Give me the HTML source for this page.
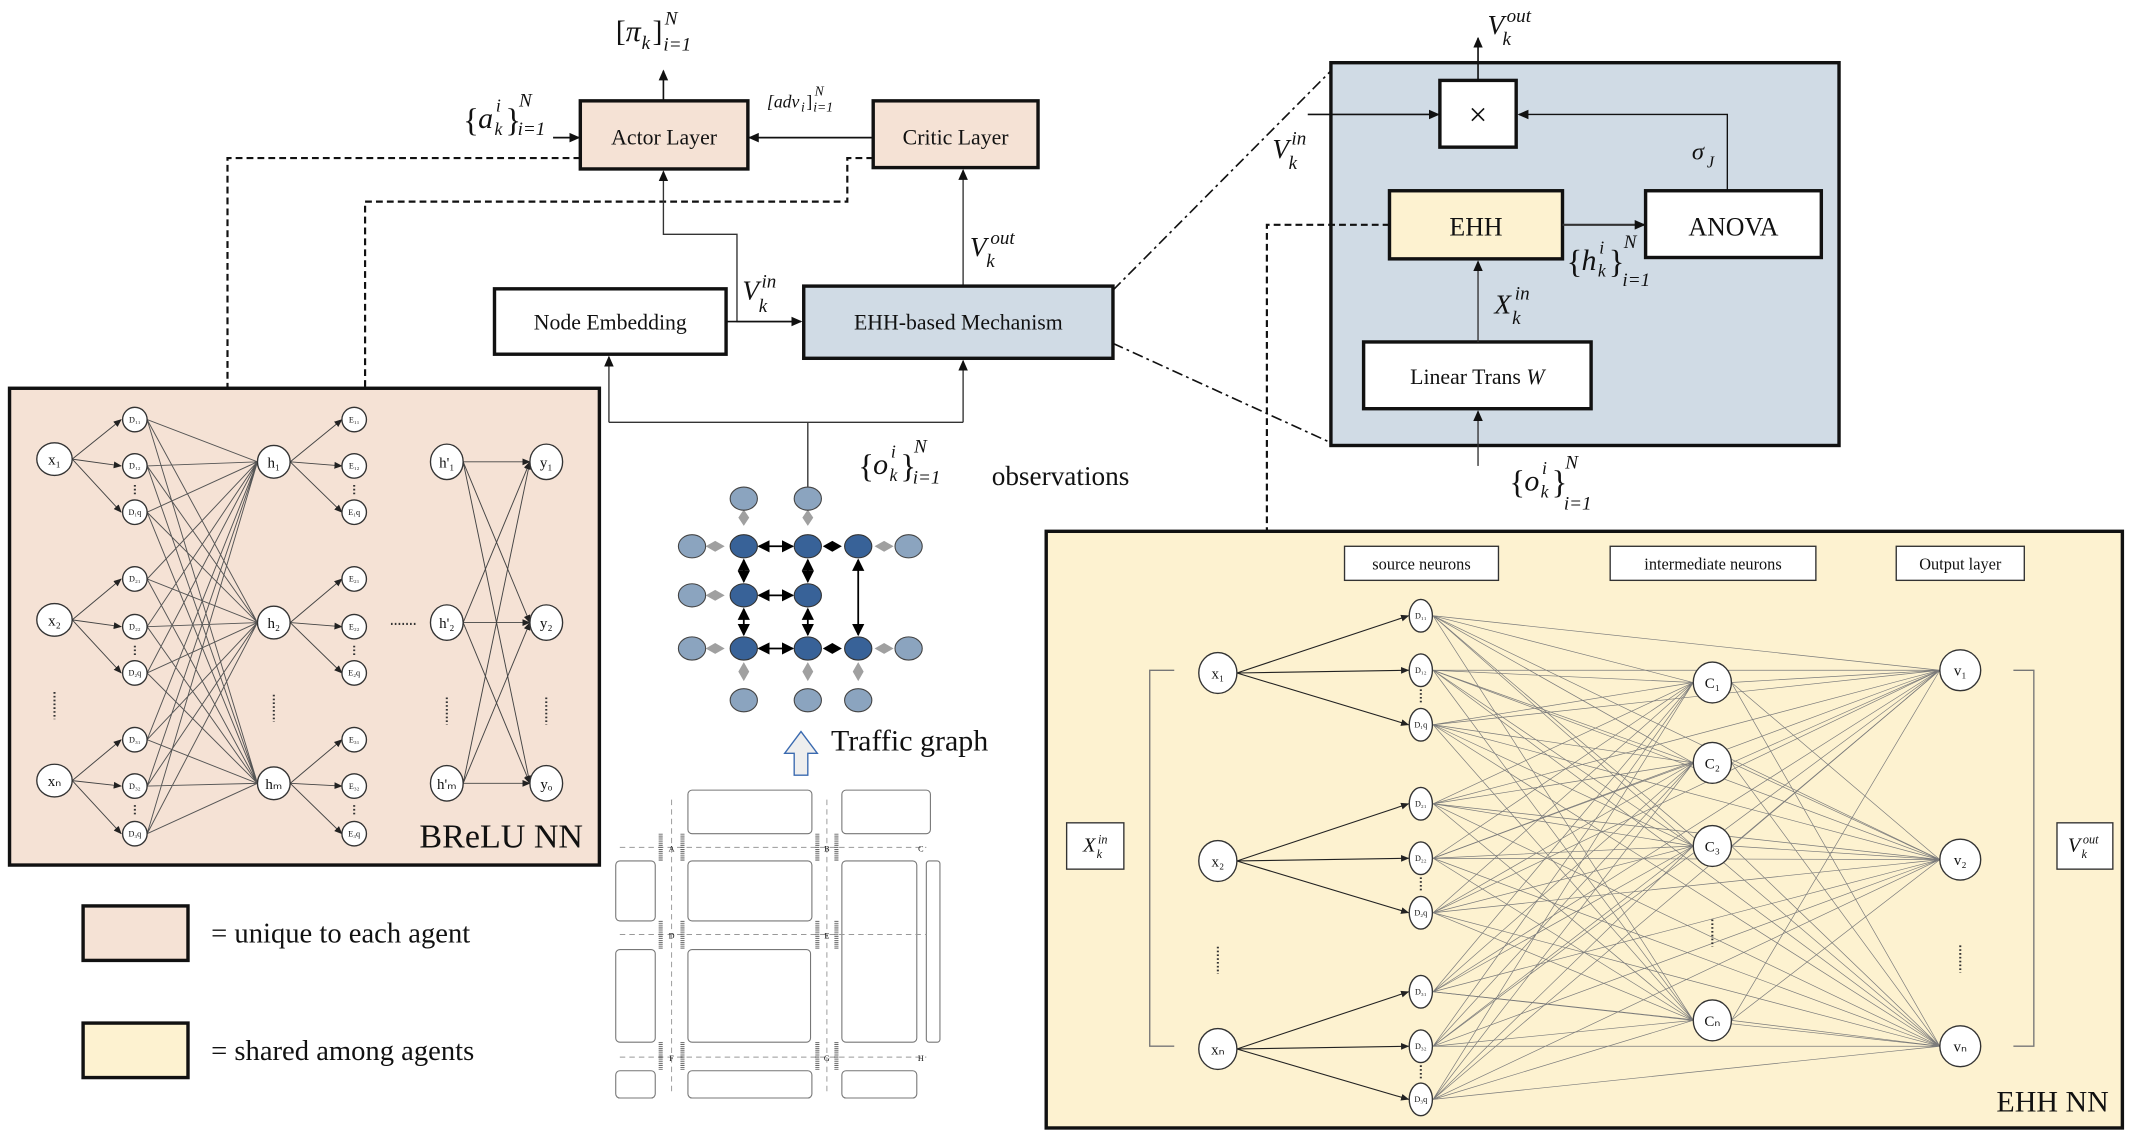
<!DOCTYPE html>
<html><head><meta charset="utf-8">
<style>
html,body{margin:0;padding:0;background:#fff;}
svg{display:block;}
text{font-family:"Liberation Serif",serif;fill:#111;}
.m{font-style:italic;}
</style></head>
<body>
<svg width="2136" height="1134" viewBox="0 0 1568 832.4" xmlns="http://www.w3.org/2000/svg">
<defs>
<marker id="a" markerWidth="8" markerHeight="8" refX="7" refY="4" orient="auto" markerUnits="userSpaceOnUse"><path d="M0,0.5 L8,4 L0,7.5 z" fill="#111"/></marker>
<marker id="s" markerWidth="6" markerHeight="6" refX="5.5" refY="3" orient="auto" markerUnits="userSpaceOnUse"><path d="M0,0.5 L6,3 L0,5.5 z" fill="#222"/></marker>
<marker id="bd" markerWidth="9" markerHeight="9" refX="8" refY="4.5" orient="auto-start-reverse" markerUnits="userSpaceOnUse"><path d="M0,0 L9,4.5 L0,9 z" fill="#000"/></marker>
</defs>

<!-- ===== Top: actor / critic ===== -->
<line x1="487" y1="73" x2="487" y2="52" stroke="#111" stroke-width="1.2" marker-end="url(#a)"/>
<text x="452" y="30" font-size="22">[<tspan class="m">π</tspan></text><text x="471" y="36" class="m" font-size="14">k</text><text x="479" y="30" font-size="22">]</text>
<text x="488" y="18" class="m" font-size="14">N</text><text x="487" y="37" class="m" font-size="14">i=1</text>

<rect x="426" y="74" width="123" height="50" fill="#f5e2d5" stroke="#111" stroke-width="2.5"/>
<text x="487.5" y="106" font-size="16" text-anchor="middle">Actor Layer</text>
<rect x="641" y="74" width="121" height="49" fill="#f5e2d5" stroke="#111" stroke-width="2.5"/>
<text x="701.5" y="106" font-size="16" text-anchor="middle">Critic Layer</text>
<line x1="640" y1="101" x2="550" y2="101" stroke="#111" stroke-width="1.2" marker-end="url(#a)"/>
<text x="340" y="96" font-size="24">{</text><text x="351" y="94" class="m" font-size="22">a</text><text x="364" y="82" class="m" font-size="13">i</text><text x="363" y="99" class="m" font-size="13">k</text><text x="371" y="96" font-size="24">}</text>
<text x="381" y="78" class="m" font-size="14">N</text><text x="380" y="99" class="m" font-size="14">i=1</text>
<line x1="406" y1="101" x2="425" y2="101" stroke="#111" stroke-width="1.2" marker-end="url(#a)"/>
<text x="563" y="79" class="m" font-size="13">[adv</text><text x="588" y="82" class="m" font-size="10">i</text><text x="592" y="79" font-size="13">]</text><text x="598" y="70" class="m" font-size="10">N</text><text x="597" y="82" class="m" font-size="10">i=1</text>

<path d="M426 116 H167 V285" fill="none" stroke="#111" stroke-width="1.6" stroke-dasharray="5,3"/>
<path d="M641 116 H622 V148 H268 V285" fill="none" stroke="#111" stroke-width="1.6" stroke-dasharray="5,3"/>

<path d="M586 236 H541 V172 H487 V126" fill="none" stroke="#333" stroke-width="1" marker-end="url(#a)"/>
<line x1="707" y1="209" x2="707" y2="125" stroke="#333" stroke-width="1" marker-end="url(#a)"/>
<text x="712" y="188" class="m" font-size="20">V</text><text x="727" y="179" class="m" font-size="14">out</text><text x="724" y="196" class="m" font-size="14">k</text>
<text x="545" y="220" class="m" font-size="20">V</text><text x="559" y="211" class="m" font-size="14">in</text><text x="557" y="229" class="m" font-size="14">k</text>

<rect x="363" y="212" width="170" height="48" fill="#fff" stroke="#111" stroke-width="2.5"/>
<text x="448" y="242" font-size="16" text-anchor="middle">Node Embedding</text>
<rect x="590" y="210" width="227" height="53" fill="#d0dbe5" stroke="#111" stroke-width="2.5"/>
<text x="703.5" y="242" font-size="16" text-anchor="middle">EHH-based Mechanism</text>
<line x1="533" y1="236" x2="588" y2="236" stroke="#111" stroke-width="1.2" marker-end="url(#a)"/>

<path d="M593 358 V310 M447 310 H707" fill="none" stroke="#333" stroke-width="1"/>
<line x1="447" y1="310" x2="447" y2="262" stroke="#333" stroke-width="1" marker-end="url(#a)"/>
<line x1="707" y1="310" x2="707" y2="265" stroke="#333" stroke-width="1" marker-end="url(#a)"/>
<text x="630" y="350" font-size="24">{</text><text x="641" y="348" class="m" font-size="22">o</text><text x="654" y="336" class="m" font-size="13">i</text><text x="653" y="353" class="m" font-size="13">k</text><text x="661" y="350" font-size="24">}</text>
<text x="671" y="332" class="m" font-size="14">N</text><text x="670" y="355" class="m" font-size="14">i=1</text>
<text x="728" y="356" font-size="20">observations</text>

<line x1="817" y1="213" x2="977" y2="52" stroke="#111" stroke-width="1.2" stroke-dasharray="8,3,2,3"/>
<line x1="817" y1="252" x2="977" y2="325" stroke="#111" stroke-width="1.2" stroke-dasharray="8,3,2,3"/>

<!-- ===== Right blue box ===== -->
<rect x="977" y="46" width="373" height="281" fill="#d0dbe5" stroke="#111" stroke-width="2.5"/>
<rect x="1057" y="59" width="56" height="49" fill="#fff" stroke="#111" stroke-width="2.5"/>
<text x="1085" y="92" font-size="24" text-anchor="middle">×</text>
<line x1="1085" y1="59" x2="1085" y2="28" stroke="#111" stroke-width="1.2" marker-end="url(#a)"/>
<text x="1092" y="25" class="m" font-size="20">V</text><text x="1106" y="16" class="m" font-size="14">out</text><text x="1103" y="33" class="m" font-size="14">k</text>
<line x1="960" y1="84" x2="1056" y2="84" stroke="#111" stroke-width="1.2" marker-end="url(#a)"/>
<text x="934" y="116" class="m" font-size="20">V</text><text x="948" y="106" class="m" font-size="14">in</text><text x="946" y="124" class="m" font-size="14">k</text>
<path d="M1268 140 V84 H1115" fill="none" stroke="#111" stroke-width="1" marker-end="url(#a)"/>
<text x="1242" y="117" class="m" font-size="18">σ</text><text x="1253" y="123" class="m" font-size="12">J</text>

<rect x="1020" y="140" width="127" height="50" fill="#fdf2d0" stroke="#111" stroke-width="2.5"/>
<text x="1083.5" y="173" font-size="19" text-anchor="middle">EHH</text>
<rect x="1208" y="140" width="129" height="49" fill="#fff" stroke="#111" stroke-width="2.5"/>
<text x="1272.5" y="173" font-size="19" text-anchor="middle">ANOVA</text>
<line x1="1147" y1="165" x2="1207" y2="165" stroke="#333" stroke-width="1.5" marker-end="url(#a)"/>
<text x="1150" y="200" font-size="24">{</text><text x="1161" y="198" class="m" font-size="22">h</text><text x="1174" y="186" class="m" font-size="13">i</text><text x="1173" y="203" class="m" font-size="13">k</text><text x="1181" y="200" font-size="24">}</text>
<text x="1192" y="182" class="m" font-size="14">N</text><text x="1191" y="210" class="m" font-size="14">i=1</text>

<rect x="1001" y="251" width="167" height="49" fill="#fff" stroke="#111" stroke-width="2.5"/>
<text x="1084.5" y="282" font-size="16" text-anchor="middle">Linear Trans <tspan class="m">W</tspan></text>
<line x1="1085" y1="251" x2="1085" y2="192" stroke="#333" stroke-width="1" marker-end="url(#a)"/>
<text x="1097" y="230" class="m" font-size="20">X</text><text x="1112" y="220" class="m" font-size="14">in</text><text x="1110" y="238" class="m" font-size="14">k</text>
<line x1="1085" y1="342" x2="1085" y2="302" stroke="#333" stroke-width="1" marker-end="url(#a)"/>
<text x="1108" y="362" font-size="24">{</text><text x="1119" y="360" class="m" font-size="22">o</text><text x="1132" y="348" class="m" font-size="13">i</text><text x="1131" y="365" class="m" font-size="13">k</text><text x="1139" y="362" font-size="24">}</text>
<text x="1149" y="344" class="m" font-size="14">N</text><text x="1148" y="374" class="m" font-size="14">i=1</text>
<path d="M1020 165 H930 V390" fill="none" stroke="#111" stroke-width="1.6" stroke-dasharray="5,3"/>

<!-- ===== BReLU NN ===== -->
<rect x="7" y="285" width="433" height="350" fill="#f5e2d5" stroke="#111" stroke-width="2.5"/>
<g stroke="#555" stroke-width="0.7" fill="none">
<path d="M108 308L189 339M108 308L189 457M108 308L189 575M108 342L189 339M108 342L189 457M108 342L189 575M108 376L189 339M108 376L189 457M108 376L189 575M108 425L189 339M108 425L189 457M108 425L189 575M108 460L189 339M108 460L189 457M108 460L189 575M108 494L189 339M108 494L189 457M108 494L189 575M108 543L189 339M108 543L189 457M108 543L189 575M108 577L189 339M108 577L189 457M108 577L189 575M108 612L189 339M108 612L189 457M108 612L189 575"/>
</g>
<g stroke="#444" stroke-width="0.7" marker-end="url(#s)">
<line x1="53" y1="337" x2="89" y2="308"/><line x1="53" y1="337" x2="89" y2="342"/><line x1="53" y1="337" x2="89" y2="376"/>
<line x1="53" y1="455" x2="89" y2="425"/><line x1="53" y1="455" x2="89" y2="460"/><line x1="53" y1="455" x2="89" y2="494"/>
<line x1="53" y1="573" x2="89" y2="543"/><line x1="53" y1="573" x2="89" y2="577"/><line x1="53" y1="573" x2="89" y2="612"/>
<line x1="213" y1="339" x2="251" y2="308"/><line x1="213" y1="339" x2="251" y2="342"/><line x1="213" y1="339" x2="251" y2="376"/>
<line x1="213" y1="457" x2="251" y2="425"/><line x1="213" y1="457" x2="251" y2="460"/><line x1="213" y1="457" x2="251" y2="494"/>
<line x1="213" y1="575" x2="251" y2="543"/><line x1="213" y1="575" x2="251" y2="577"/><line x1="213" y1="575" x2="251" y2="612"/>
<line x1="340" y1="339" x2="389" y2="339"/><line x1="340" y1="339" x2="389" y2="457"/><line x1="340" y1="339" x2="389" y2="575"/>
<line x1="340" y1="457" x2="389" y2="339"/><line x1="340" y1="457" x2="389" y2="457"/><line x1="340" y1="457" x2="389" y2="575"/>
<line x1="340" y1="575" x2="389" y2="339"/><line x1="340" y1="575" x2="389" y2="457"/><line x1="340" y1="575" x2="389" y2="575"/>
</g>
<g fill="#fff" stroke="#333" stroke-width="1">
<ellipse cx="40" cy="337" rx="13" ry="12"/><ellipse cx="40" cy="455" rx="13" ry="12"/><ellipse cx="40" cy="573" rx="13" ry="12"/>
<circle cx="99" cy="308" r="9"/><circle cx="99" cy="342" r="9"/><circle cx="99" cy="376" r="9"/>
<circle cx="99" cy="425" r="9"/><circle cx="99" cy="460" r="9"/><circle cx="99" cy="494" r="9"/>
<circle cx="99" cy="543" r="9"/><circle cx="99" cy="577" r="9"/><circle cx="99" cy="612" r="9"/>
<circle cx="201" cy="339" r="12"/><circle cx="201" cy="457" r="12"/><circle cx="201" cy="575" r="12"/>
<circle cx="260" cy="308" r="9"/><circle cx="260" cy="342" r="9"/><circle cx="260" cy="376" r="9"/>
<circle cx="260" cy="425" r="9"/><circle cx="260" cy="460" r="9"/><circle cx="260" cy="494" r="9"/>
<circle cx="260" cy="543" r="9"/><circle cx="260" cy="577" r="9"/><circle cx="260" cy="612" r="9"/>
<ellipse cx="328" cy="339" rx="12" ry="13"/><ellipse cx="328" cy="457" rx="12" ry="13"/><ellipse cx="328" cy="575" rx="12" ry="13"/>
<ellipse cx="401" cy="339" rx="12" ry="13"/><ellipse cx="401" cy="457" rx="12" ry="13"/><ellipse cx="401" cy="575" rx="12" ry="13"/>
</g>
<g font-size="11" text-anchor="middle">
<text x="40" y="341">x₁</text><text x="40" y="459">x₂</text><text x="40" y="577">xₙ</text>
<text x="201" y="343">h₁</text><text x="201" y="461">h₂</text><text x="201" y="579">hₘ</text>
<text x="328" y="343">h'₁</text><text x="328" y="461">h'₂</text><text x="328" y="579">h'ₘ</text>
<text x="401" y="343">y₁</text><text x="401" y="461">y₂</text><text x="401" y="579">yₒ</text>
</g>
<g font-size="6" text-anchor="middle">
<text x="99" y="310">D₁₁</text><text x="99" y="344">D₁₂</text><text x="99" y="378">D₁q</text>
<text x="99" y="427">D₂₁</text><text x="99" y="462">D₂₂</text><text x="99" y="496">D₂q</text>
<text x="99" y="545">D₃₁</text><text x="99" y="579">D₃₂</text><text x="99" y="614">D₃q</text>
<text x="260" y="310">E₁₁</text><text x="260" y="344">E₁₂</text><text x="260" y="378">E₁q</text>
<text x="260" y="427">E₂₁</text><text x="260" y="462">E₂₂</text><text x="260" y="496">E₂q</text>
<text x="260" y="545">E₃₁</text><text x="260" y="579">E₃₂</text><text x="260" y="614">E₃q</text>
</g>
<g stroke="#333" stroke-width="1.5" stroke-dasharray="1.2,1.6">
<line x1="40" y1="508" x2="40" y2="528"/><line x1="201" y1="510" x2="201" y2="530"/><line x1="328" y1="512" x2="328" y2="532"/><line x1="401" y1="512" x2="401" y2="532"/>
<line x1="99" y1="356" x2="99" y2="364"/><line x1="99" y1="474" x2="99" y2="482"/><line x1="99" y1="591" x2="99" y2="599"/>
<line x1="260" y1="356" x2="260" y2="364"/><line x1="260" y1="474" x2="260" y2="482"/><line x1="260" y1="591" x2="260" y2="599"/>
<line x1="287" y1="458" x2="305" y2="458"/>
</g>
<text x="428" y="622" font-size="25" text-anchor="end">BReLU NN</text>

<!-- legend -->
<rect x="61" y="665" width="77" height="40" fill="#f5e2d5" stroke="#111" stroke-width="2.5"/>
<text x="155" y="692" font-size="21">= unique to each agent</text>
<rect x="61" y="751" width="77" height="40" fill="#fdf2d0" stroke="#111" stroke-width="2.5"/>
<text x="155" y="778" font-size="21">= shared among agents</text>

<!-- ===== Traffic graph ===== -->
<g fill="#a0a0a0">
<path d="M546 374 l4 6 -4 6 -4 -6z M593 374 l4 6 -4 6 -4 -6z"/>
<path d="M518 401 l7 -4 7 4 -7 4z M518 437 l7 -4 7 4 -7 4z M518 476 l7 -4 7 4 -7 4z"/>
<path d="M642 401 l7 -4 7 4 -7 4z M642 476 l7 -4 7 4 -7 4z"/>
<path d="M546 486 l4 7 -4 7 -4 -7z M593 486 l4 7 -4 7 -4 -7z M630 486 l4 7 -4 7 -4 -7z"/>
</g>
<g stroke="#000" stroke-width="1.3" marker-start="url(#bd)" marker-end="url(#bd)">
<line x1="557" y1="401" x2="582" y2="401"/><line x1="557" y1="437" x2="582" y2="437"/><line x1="557" y1="476" x2="582" y2="476"/>
<line x1="546" y1="411" x2="546" y2="427"/><line x1="546" y1="447" x2="546" y2="466"/>
<line x1="593" y1="411" x2="593" y2="427"/><line x1="593" y1="447" x2="593" y2="466"/>
<line x1="630" y1="411" x2="630" y2="466"/>
</g>
<path d="M604 401 l7 -4 7 4 -7 4z M604 476 l7 -4 7 4 -7 4z" fill="#000"/>
<g fill="#8ba4bf" stroke="#444" stroke-width="0.8">
<ellipse cx="546" cy="366" rx="10" ry="8.5"/><ellipse cx="593" cy="366" rx="10" ry="8.5"/>
<ellipse cx="508" cy="401" rx="10" ry="8.5"/><ellipse cx="508" cy="437" rx="10" ry="8.5"/><ellipse cx="508" cy="476" rx="10" ry="8.5"/>
<ellipse cx="667" cy="401" rx="10" ry="8.5"/><ellipse cx="667" cy="476" rx="10" ry="8.5"/>
<ellipse cx="546" cy="514" rx="10" ry="8.5"/><ellipse cx="593" cy="514" rx="10" ry="8.5"/><ellipse cx="630" cy="514" rx="10" ry="8.5"/>
</g>
<g fill="#386298" stroke="#333" stroke-width="0.8">
<ellipse cx="546" cy="401" rx="10" ry="8.5"/><ellipse cx="593" cy="401" rx="10" ry="8.5"/><ellipse cx="630" cy="401" rx="10" ry="8.5"/>
<ellipse cx="546" cy="437" rx="10" ry="8.5"/><ellipse cx="593" cy="437" rx="10" ry="8.5"/>
<ellipse cx="546" cy="476" rx="10" ry="8.5"/><ellipse cx="593" cy="476" rx="10" ry="8.5"/><ellipse cx="630" cy="476" rx="10" ry="8.5"/>
</g>
<path d="M583 569 V553 H576 L588 537 L600 553 H593 V569 Z" fill="#eee" stroke="#3a6ab0" stroke-width="1"/>
<text x="610" y="551" font-size="22">Traffic graph</text>

<!-- map -->
<g fill="#fff" stroke="#777" stroke-width="0.8">
<rect x="505" y="580" width="91" height="32" rx="3"/><rect x="618" y="580" width="65" height="32" rx="3"/>
<rect x="452" y="632" width="29" height="44" rx="3"/><rect x="505" y="632" width="91" height="44" rx="3"/><rect x="618" y="632" width="55" height="133" rx="3"/>
<rect x="452" y="697" width="29" height="68" rx="3"/><rect x="505" y="697" width="90" height="68" rx="3"/>
<rect x="452" y="786" width="29" height="20" rx="3"/><rect x="505" y="786" width="91" height="20" rx="3"/><rect x="618" y="786" width="55" height="20" rx="3"/>
<rect x="680" y="632" width="10" height="133" rx="2"/>
</g>
<g stroke="#999" stroke-width="0.7" stroke-dasharray="4,3" fill="none">
<path d="M455 622 H680 M455 686 H680 M455 776 H680 M493 587 V804 M607 587 V804"/>
</g>
<g stroke="#666" stroke-width="3" stroke-dasharray="0.7,0.7">
<path d="M485 612 V632 M501 612 V632 M600 612 V632 M614 612 V632 M485 676 V697 M501 676 V697 M600 676 V697 M614 676 V697 M485 765 V786 M501 765 V786 M600 765 V786 M614 765 V786"/>
</g>
<g font-size="6" text-anchor="middle">
<text x="493" y="625">A</text><text x="607" y="625">B</text><text x="676" y="625">C</text><text x="493" y="689">D</text><text x="607" y="689">E</text><text x="493" y="779">F</text><text x="607" y="779">G</text><text x="676" y="779">H</text>
</g>

<!-- ===== EHH NN ===== -->
<rect x="768" y="390" width="790" height="438" fill="#fdf2d0" stroke="#111" stroke-width="2.5"/>
<g fill="#fff" stroke="#333" stroke-width="1">
<rect x="987" y="401" width="113" height="25"/><rect x="1182" y="401" width="151" height="25"/><rect x="1392" y="401" width="94" height="25"/>
<rect x="783" y="604" width="42" height="34"/><rect x="1510" y="604" width="41" height="34"/>
</g>
<text x="1043.5" y="418" font-size="12" text-anchor="middle">source neurons</text>
<text x="1257.5" y="418" font-size="12" text-anchor="middle">intermediate neurons</text>
<text x="1439" y="418" font-size="12" text-anchor="middle">Output layer</text>
<text x="795" y="625" class="m" font-size="15">X</text><text x="806" y="619" class="m" font-size="9">in</text><text x="805" y="630" class="m" font-size="9">k</text>
<text x="1518" y="625" class="m" font-size="15">V</text><text x="1529" y="619" class="m" font-size="9">out</text><text x="1528" y="630" class="m" font-size="9">k</text>
<path d="M862 492 H844 V768 H862 M1478 492 H1493 V768 H1478" fill="none" stroke="#777" stroke-width="1"/>
<g stroke="#7a7a7a" stroke-width="0.5" fill="none">
<path d="M1052 452L1243 501M1052 452L1243 560M1052 452L1243 621M1052 452L1243 749M1052 492L1243 501M1052 492L1243 560M1052 492L1243 621M1052 492L1243 749M1052 532L1243 501M1052 532L1243 560M1052 532L1243 621M1052 532L1243 749M1052 590L1243 501M1052 590L1243 560M1052 590L1243 621M1052 590L1243 749M1052 630L1243 501M1052 630L1243 560M1052 630L1243 621M1052 630L1243 749M1052 670L1243 501M1052 670L1243 560M1052 670L1243 621M1052 670L1243 749M1052 728L1243 501M1052 728L1243 560M1052 728L1243 621M1052 728L1243 749M1052 768L1243 501M1052 768L1243 560M1052 768L1243 621M1052 768L1243 749M1052 807L1243 501M1052 807L1243 560M1052 807L1243 621M1052 807L1243 749"/>
<path d="M1052 452L1424 492M1052 452L1424 631M1052 452L1424 768M1052 492L1424 492M1052 492L1424 631M1052 492L1424 768M1052 532L1424 492M1052 532L1424 631M1052 532L1424 768M1052 590L1424 492M1052 590L1424 631M1052 590L1424 768M1052 630L1424 492M1052 630L1424 631M1052 630L1424 768M1052 670L1424 492M1052 670L1424 631M1052 670L1424 768M1052 728L1424 492M1052 728L1424 631M1052 728L1424 768M1052 768L1424 492M1052 768L1424 631M1052 768L1424 768M1052 807L1424 492M1052 807L1424 631M1052 807L1424 768"/>
<path d="M1271 501L1424 492M1271 501L1424 631M1271 501L1424 768M1271 560L1424 492M1271 560L1424 631M1271 560L1424 768M1271 621L1424 492M1271 621L1424 631M1271 621L1424 768M1271 749L1424 492M1271 749L1424 631M1271 749L1424 768"/>
</g>
<g stroke="#222" stroke-width="0.8" marker-end="url(#s)">
<line x1="908" y1="494" x2="1034" y2="452"/><line x1="908" y1="494" x2="1034" y2="492"/><line x1="908" y1="494" x2="1034" y2="532"/>
<line x1="908" y1="632" x2="1034" y2="590"/><line x1="908" y1="632" x2="1034" y2="630"/><line x1="908" y1="632" x2="1034" y2="670"/>
<line x1="908" y1="770" x2="1034" y2="728"/><line x1="908" y1="770" x2="1034" y2="768"/><line x1="908" y1="770" x2="1034" y2="807"/>
</g>
<g fill="#fff" stroke="#333" stroke-width="1">
<ellipse cx="894" cy="494" rx="14" ry="15"/><ellipse cx="894" cy="632" rx="14" ry="15"/><ellipse cx="894" cy="770" rx="14" ry="15"/>
<ellipse cx="1043" cy="452" rx="8.5" ry="12"/><ellipse cx="1043" cy="492" rx="8.5" ry="12"/><ellipse cx="1043" cy="532" rx="8.5" ry="12"/>
<ellipse cx="1043" cy="590" rx="8.5" ry="12"/><ellipse cx="1043" cy="630" rx="8.5" ry="12"/><ellipse cx="1043" cy="670" rx="8.5" ry="12"/>
<ellipse cx="1043" cy="728" rx="8.5" ry="12"/><ellipse cx="1043" cy="768" rx="8.5" ry="12"/><ellipse cx="1043" cy="807" rx="8.5" ry="12"/>
<ellipse cx="1257" cy="501" rx="14" ry="15"/><ellipse cx="1257" cy="560" rx="14" ry="15"/><ellipse cx="1257" cy="621" rx="14" ry="15"/><ellipse cx="1257" cy="749" rx="14" ry="15"/>
<ellipse cx="1439" cy="492" rx="15" ry="15"/><ellipse cx="1439" cy="631" rx="15" ry="15"/><ellipse cx="1439" cy="768" rx="15" ry="15"/>
</g>
<g font-size="11" text-anchor="middle">
<text x="894" y="498">x₁</text><text x="894" y="636">x₂</text><text x="894" y="774">xₙ</text>
<text x="1257" y="505">C₁</text><text x="1257" y="564">C₂</text><text x="1257" y="625">C₃</text><text x="1257" y="753">Cₙ</text>
<text x="1439" y="496">v₁</text><text x="1439" y="635">v₂</text><text x="1439" y="772">vₙ</text>
</g>
<g font-size="6" text-anchor="middle">
<text x="1043" y="454">D₁₁</text><text x="1043" y="494">D₁₂</text><text x="1043" y="534">D₁q</text>
<text x="1043" y="592">D₂₁</text><text x="1043" y="632">D₂₂</text><text x="1043" y="672">D₂q</text>
<text x="1043" y="730">D₃₁</text><text x="1043" y="770">D₃₂</text><text x="1043" y="809">D₃q</text>
</g>
<g stroke="#333" stroke-width="1.5" stroke-dasharray="1.2,1.6">
<line x1="894" y1="695" x2="894" y2="715"/><line x1="1257" y1="675" x2="1257" y2="695"/><line x1="1439" y1="694" x2="1439" y2="714"/>
<line x1="1043" y1="506" x2="1043" y2="516"/><line x1="1043" y1="644" x2="1043" y2="654"/><line x1="1043" y1="782" x2="1043" y2="792"/>
</g>
<text x="1548" y="816" font-size="22" text-anchor="end">EHH NN</text>
</svg>
</body></html>
